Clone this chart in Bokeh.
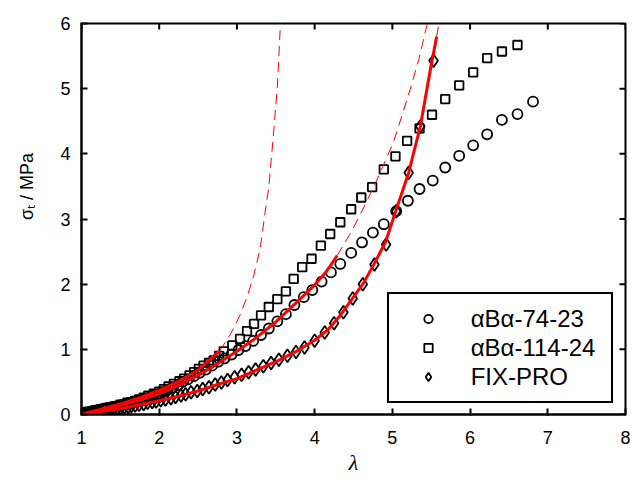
import math
from bokeh.plotting import figure
from bokeh.models import Range1d, FixedTicker, Legend, LegendItem
from bokeh.embed import file_html
from bokeh.resources import INLINE

# ---- data: alphaBalpha-74-23 (circles) ----
lam_a = [1.00, 1.02, 1.05, 1.08, 1.12, 1.15, 1.19, 1.22, 1.26, 1.30, 1.34, 1.38, 1.42, 1.47, 1.51,
         1.56, 1.60, 1.65, 1.70, 1.76, 1.81, 1.87, 1.92, 1.98, 2.04, 2.10, 2.17, 2.24, 2.30, 2.37,
         2.45, 2.52, 2.60, 2.68, 2.76, 2.84, 2.93, 3.02, 3.11, 3.21, 3.31, 3.41, 3.52, 3.63, 3.74,
         3.86, 3.97, 4.09, 4.21, 4.33, 4.47, 4.61, 4.75, 4.89, 5.05, 5.20, 5.35, 5.52, 5.68, 5.86,
         6.04, 6.22, 6.41, 6.61, 6.81]
sig_a = [0.00, 0.01, 0.02, 0.03, 0.04, 0.05, 0.06, 0.07, 0.08, 0.09, 0.10, 0.11, 0.12, 0.13, 0.14,
         0.15, 0.17, 0.18, 0.20, 0.22, 0.24, 0.26, 0.29, 0.31, 0.34, 0.37, 0.41, 0.45, 0.50, 0.54,
         0.59, 0.64, 0.69, 0.75, 0.81, 0.86, 0.92, 0.99, 1.05, 1.13, 1.22, 1.32, 1.43, 1.54, 1.68,
         1.80, 1.91, 2.04, 2.18, 2.31, 2.48, 2.64, 2.79, 2.92, 3.12, 3.28, 3.46, 3.59, 3.79, 3.97,
         4.13, 4.30, 4.52, 4.61, 4.80]

# ---- data: alphaBalpha-114-24 (squares) ----
lam_b = [1.00, 1.02, 1.05, 1.08, 1.11, 1.15, 1.18, 1.22, 1.26, 1.29, 1.33, 1.37, 1.42, 1.46, 1.50,
         1.55, 1.59, 1.64, 1.69, 1.74, 1.80, 1.86, 1.93, 2.00, 2.06, 2.12, 2.19, 2.26, 2.32, 2.39,
         2.45, 2.51, 2.57, 2.64, 2.70, 2.77, 2.83, 2.94, 3.04, 3.13, 3.22, 3.31, 3.41, 3.52, 3.63,
         3.73, 3.84, 3.96, 4.08, 4.20, 4.33, 4.47, 4.60, 4.74, 4.89, 5.04, 5.19, 5.35, 5.51, 5.68,
         5.86, 6.04, 6.22, 6.41, 6.61]
sig_b = [0.00, 0.01, 0.02, 0.03, 0.04, 0.05, 0.06, 0.07, 0.08, 0.09, 0.10, 0.11, 0.12, 0.13, 0.15,
         0.16, 0.18, 0.19, 0.21, 0.23, 0.26, 0.29, 0.32, 0.35, 0.39, 0.43, 0.47, 0.51, 0.55, 0.60,
         0.65, 0.70, 0.75, 0.79, 0.83, 0.90, 0.97, 1.06, 1.16, 1.28, 1.39, 1.52, 1.65, 1.77, 1.89,
         2.08, 2.26, 2.39, 2.59, 2.77, 2.95, 3.15, 3.33, 3.49, 3.76, 3.96, 4.20, 4.39, 4.60, 4.84,
         5.05, 5.25, 5.47, 5.57, 5.67]

# ---- data: FIX-PRO (diamonds) ----
lam_c = [1.00, 1.02, 1.05, 1.08, 1.12, 1.15, 1.19, 1.22, 1.26, 1.30, 1.34, 1.38, 1.42, 1.46, 1.50,
         1.55, 1.60, 1.64, 1.69, 1.74, 1.80, 1.85, 1.91, 1.96, 2.02, 2.08, 2.15, 2.21, 2.28, 2.34,
         2.41, 2.49, 2.56, 2.64, 2.72, 2.80, 2.88, 2.97, 3.06, 3.15, 3.24, 3.34, 3.44, 3.54, 3.65,
         3.76, 3.87, 4.00, 4.13, 4.25, 4.37, 4.49, 4.62, 4.77, 4.92, 5.05, 5.21, 5.36, 5.53]
sig_c = [0.00, 0.01, 0.015, 0.02, 0.03, 0.035, 0.04, 0.05, 0.055, 0.06, 0.07, 0.075, 0.08, 0.09, 0.10,
         0.11, 0.12, 0.13, 0.14, 0.15, 0.16, 0.18, 0.19, 0.20, 0.22, 0.23, 0.25, 0.27, 0.29, 0.31,
         0.34, 0.36, 0.39, 0.42, 0.46, 0.49, 0.53, 0.57, 0.61, 0.65, 0.69, 0.74, 0.79, 0.84, 0.90,
         0.96, 1.03, 1.13, 1.26, 1.40, 1.57, 1.78, 2.00, 2.30, 2.61, 3.12, 3.71, 4.42, 5.43]

# ---- model fits (solid) and extrapolations (dashed) ----
fit_a_x = [1.00, 1.25, 1.50, 1.75, 2.00, 2.25, 2.50, 2.75, 3.00, 3.25, 3.50, 3.75, 4.00, 4.15, 4.29]
fit_a_y = [0.00, 0.07, 0.14, 0.22, 0.32, 0.45, 0.60, 0.78, 0.97, 1.18, 1.42, 1.70, 1.99, 2.19, 2.44]
ext_a_x = [4.29, 4.48, 4.65, 4.80, 4.92, 5.02, 5.13, 5.23, 5.34, 5.45]
ext_a_y = [2.44, 2.82, 3.22, 3.60, 3.92, 4.20, 4.61, 4.99, 5.45, 6.00]

fit_b_x = [1.00, 1.25, 1.50, 1.75, 2.00, 2.25, 2.50, 2.78]
fit_b_y = [0.00, 0.08, 0.16, 0.26, 0.37, 0.51, 0.68, 0.98]
ext_b_x = [2.78, 2.92, 3.03, 3.13, 3.22, 3.30, 3.36, 3.41, 3.47, 3.52, 3.56]
ext_b_y = [0.98, 1.24, 1.50, 1.80, 2.15, 2.55, 3.08, 3.49, 4.30, 5.02, 6.00]

fit_c_x = [1.00, 1.25, 1.50, 1.75, 2.00, 2.25, 2.50, 2.75, 3.00, 3.25, 3.50, 3.75, 4.00, 4.17,
           4.33, 4.48, 4.63, 4.76, 4.91, 5.06, 5.21, 5.36, 5.49, 5.57]
fit_c_y = [0.00, 0.045, 0.09, 0.15, 0.21, 0.28, 0.36, 0.46, 0.55, 0.68, 0.81, 0.96, 1.14, 1.30,
           1.52, 1.77, 2.02, 2.30, 2.64, 3.18, 3.71, 4.42, 5.30, 5.80]
ext_c_x = [5.57, 5.60]
ext_c_y = [5.80, 6.00]

labels = ["\u03b1B\u03b1-74-23", "\u03b1B\u03b1-114-24", "FIX-PRO"]
x_ticks = [1, 2, 3, 4, 5, 6, 7, 8]
y_ticks = [0, 1, 2, 3, 4, 5, 6]
x_min, x_max = 1, 8
y_min, y_max = 0, 6

p = figure(width=630, height=490, output_backend="svg", toolbar_location=None,
           x_range=Range1d(x_min, x_max), y_range=Range1d(y_min, y_max),
           min_border_left=81, min_border_right=5, min_border_top=23, min_border_bottom=76)
p.xgrid.visible = False
p.ygrid.visible = False
p.outline_line_color = "black"
p.outline_line_width = 2
p.outline_line_alpha = 1.0

xb = p.xaxis[0]
xb.ticker = FixedTicker(ticks=x_ticks)
yl = p.yaxis[0]
yl.ticker = FixedTicker(ticks=y_ticks)
for ax in (xb, yl):
    ax.axis_line_color = "black"
    ax.axis_line_width = 2
    ax.major_tick_line_color = "black"
    ax.major_tick_line_width = 2
    ax.major_tick_in = 6
    ax.major_tick_out = 1
    ax.minor_tick_line_color = None
    ax.major_label_text_font_size = "18px"
    ax.major_label_text_color = "black"
    ax.axis_label_text_color = "black"
xb.major_label_standoff = 15
yl.major_label_standoff = 10

xb.axis_label = "\u03bb"
xb.axis_label_text_font = "times"
xb.axis_label_text_font_style = "italic"
xb.axis_label_text_font_size = "22px"
xb.axis_label_standoff = 3

yl.axis_label = "\u00a0" * 13 + "\u03c3\u209c / MPa"
yl.axis_label_text_font_style = "normal"
yl.axis_label_text_font_size = "18px"
yl.axis_label_standoff = 20

# mirrored inward ticks on top and right edges
tick_style = dict(marker="dash", size=12, line_color="black", line_width=2)
p.scatter(x_ticks, [y_max] * len(x_ticks), angle=math.pi / 2, **tick_style)
p.scatter([x_max] * len(y_ticks), y_ticks, **tick_style)

# markers
r_a = p.scatter(lam_a, sig_a, marker="circle", size=10, fill_color=None,
                line_color="black", line_width=1.8)
r_b = p.scatter(lam_b, sig_b, marker="square", size=8.5, fill_color=None,
                line_color="black", line_width=1.8)
r_c = p.scatter(lam_c, sig_c, marker="diamond", size=13, fill_color=None,
                line_color="black", line_width=1.8)

# fits
for xs, ys in ((fit_a_x, fit_a_y), (fit_b_x, fit_b_y), (fit_c_x, fit_c_y)):
    p.line(xs, ys, line_color="#ff0000", line_width=3)
for xs, ys in ((ext_a_x, ext_a_y), (ext_b_x, ext_b_y), (ext_c_x, ext_c_y)):
    p.line(xs, ys, line_color="#ff0000", line_width=1, line_dash="10 6")

legend = Legend(items=[LegendItem(label=labels[0], renderers=[r_a]),
                       LegendItem(label=labels[1], renderers=[r_b]),
                       LegendItem(label=labels[2], renderers=[r_c])],
                location=(305.7, 11), padding=10, spacing=0,
                glyph_width=58, glyph_height=21, label_height=29, label_width=130,
                label_standoff=14, label_text_font_size="24px",
                label_text_baseline="middle", label_text_color="black",
                border_line_color="black", border_line_width=2, border_line_alpha=1.0,
                background_fill_color="white", background_fill_alpha=1.0)
p.add_layout(legend)

open("out.html", "w").write(file_html(p, INLINE))
